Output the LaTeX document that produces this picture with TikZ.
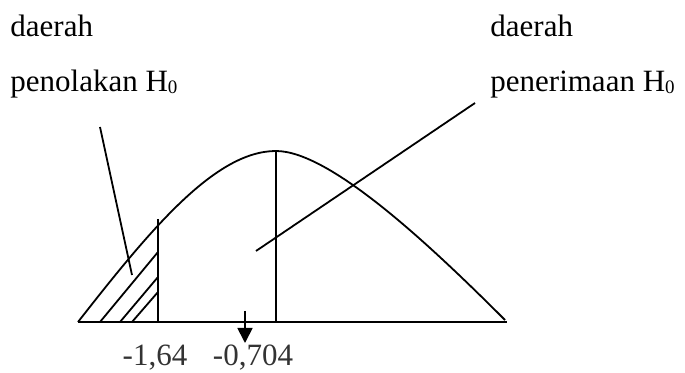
\documentclass[tikz,border=0pt]{standalone}
\usepackage{fontspec}
\setmainfont{Liberation Serif}
\usetikzlibrary{arrows.meta}
\newcommand{\subnol}{\raisebox{-1pt}{\fontsize{9.5}{10}\selectfont 0}}
\tikzset{
  curve/.style={line width=0.9pt, black},
  base line/.style={line width=0.9pt, black},
  hatch/.style={line width=0.9pt, black},
  pointer/.style={line width=0.9pt, black},
  label text/.style={anchor=base west, inner sep=0pt, font=\fontsize{15.5}{18}\selectfont},
  value text/.style={anchor=base, inner sep=0pt, text=black!80, font=\fontsize{15.5}{18}\selectfont},
}

\begin{document}
\begin{tikzpicture}[x=0.5pt, y=-0.5pt]
  \useasboundingbox (0,0) rectangle (685,373);

  % Labels
  \node[label text] (tolak1) at (10,37) {daerah};
  \node[label text] (tolak2) at (10,92) {penolakan H\subnol};
  \node[label text] (terima1) at (490,37) {daerah};
  \node[label text] (terima2) at (490,92) {penerimaan H\subnol};

  % Axis and curve
  \draw[base line] (78,322) -- (507,322);
  \draw[curve] (78,322) .. controls (150,230) and (215,151) .. (276,151)
    .. controls (330,151) and (430,245) .. (505,320);

  % Critical value and mean
  \draw[base line] (158,219) -- (158,322);
  \draw[base line] (276,151) -- (276,322);

  % Hatched region
  \draw[hatch] (100,322) -- (158,252);
  \draw[hatch] (120,322) -- (158,277);
  \draw[hatch] (132,322) -- (158,292);

  % Pointers
  \coordinate (tolak end) at (100,127);
  \coordinate (tolak tip) at (132,275);
  \coordinate (terima end) at (475,103);
  \coordinate (terima tip) at (256,251);
  \draw[pointer] (tolak end) -- (tolak tip);
  \draw[pointer] (terima end) -- (terima tip);

  % Test statistic
  \coordinate (stat top) at (245,311);
  \coordinate (stat tip) at (245,343);
  \draw[line width=0.9pt, -{Triangle[length=7.5pt, width=7.5pt]}] (stat top) -- (stat tip);

  \node[value text] (kritis) at (155,366) {-1,64};
  \node[value text] (hitung) at (253,366) {-0,704};
\end{tikzpicture}
\end{document}
